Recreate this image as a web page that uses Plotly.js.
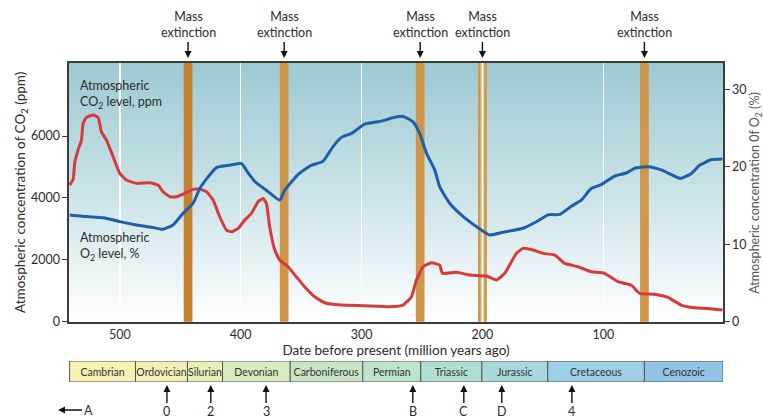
<!DOCTYPE html>
<html><head><meta charset="utf-8">
<script src="https://cdn.plot.ly/plotly-3.0.1.min.js"></script>
<style>html,body{margin:0;padding:0;background:#fff;}#chart{width:763px;height:419px;}</style>
</head><body><div id="chart"></div>
<script>
// ---- data (millions of years ago) ----
const co2Age = [541.4,538.6,537.2,534.5,531.7,530.3,527.6,522,517.9,515.2,511,505.5,500,494.5,486.2,475.2,468.3,464.2,458.6,453.1,446.2,439.3,433.8,428.3,422.8,417.3,411.8,407.6,402.1,396.6,391.1,385.6,381.5,378.7,376,371.8,367.7,360.8,354,347.1,338.8,330.5,316.7,297.4,276.6,265.6,258.7,254.6,249.1,242.2,235.3,233.1,221.5,210.5,196.7,188.4,181.5,171.9,166.4,158.1,149.8,140,132,121,110,99,88,77,70,57.7,46.6,35.6,24.6,13.6,1.5];
const co2Ppm = [4415,4600,5150,5546,5869,6408,6602,6676,6602,6137,5869,5330,4793,4577,4470,4490,4415,4200,4038,4038,4147,4276,4276,4200,3931,3392,2962,2907,3016,3285,3500,3876,3985,3823,3069,2316,1993,1777,1454,1131,808,614,539,517,485,539,808,1347,1777,1906,1830,1563,1595,1508,1475,1347,1563,2209,2370,2316,2209,2154,1885,1777,1615,1563,1292,1185,916,885,787,539,452,430,378];
const o2Age = [541.4,527.6,513.8,500,486.2,472.4,464.2,455.9,447.6,439.3,433.8,426.9,420,409,399.3,393.8,388.3,377.3,367.7,363.5,352.5,341.5,331.9,323.6,316.7,308.5,297.4,283.7,272.6,265.6,257.4,251.9,246.4,239.5,235.3,227.1,216.1,205.1,194.1,183,166.4,155.4,145.8,136,126.5,118.2,110,101.7,90.7,81,74.1,63.1,52.1,43.8,36.1,27.3,20.4,10.7,1.5];
const o2Pct = [13.78,13.57,13.43,12.92,12.49,12.15,11.93,12.49,14.0,15.3,17.2,18.7,19.9,20.2,20.4,19.2,18.1,16.8,15.7,17.0,19.0,20.2,20.7,22.6,23.8,24.3,25.5,25.9,26.4,26.5,25.8,24.3,21.8,19.6,17.4,15.3,13.6,12.3,11.2,11.55,12.07,12.9,13.8,13.85,14.9,15.7,17.2,17.7,18.8,19.2,19.8,20.0,19.6,19.0,18.5,19.1,20.2,20.9,21.0];
const extinctionAge = [443.5, 364, 251.5, 200, 66];
const periodNames = ['Cambrian','Ordovician','Silurian','Devonian','Carboniferous','Permian','Triassic','Jurassic','Cretaceous','Cenozoic'];
const periodStart = [541.5,487,444,415,359,299,251,200.5,146,66];
const periodEnd   = [487,444,415,359,299,251,200.5,146,66,1];
const markerLabels = ['0','2','3','B','C','D','4'];
const markerAge = [461, 424.7, 379, 257.6, 215.4, 184, 126];

// ---- styles ----
const FONT = 'Lato, "Open Sans", sans-serif';
const TXT = '#2b2b2b';
const periodColors = ['#f7f1b3','#f2efb6','#e9efb9','#d9ecc0','#c8e6c5','#bee3cb','#b0ded3','#a7d8dd','#9dcfe6','#8fc4e6'];
const bgSvg = '<svg xmlns="http://www.w3.org/2000/svg" width="100" height="100" viewBox="0 0 100 100" preserveAspectRatio="none"><defs><linearGradient id="g" x1="0" y1="0" x2="0" y2="1"><stop offset="0" stop-color="#9dc9d2"/><stop offset="0.5" stop-color="#cae3e8"/><stop offset="1" stop-color="#ffffff"/></linearGradient></defs><rect width="100" height="100" fill="url(#g)"/></svg>';

const mainBottom = 0.189;
const tlTop = 0.0658;

const traces = [
  {x: co2Age, y: co2Ppm, type: 'scatter', mode: 'lines', xaxis: 'x', yaxis: 'y',
   line: {color: '#d63a3c', width: 3, shape: 'spline', smoothing: 0.4}, hoverinfo: 'skip'},
  {x: o2Age, y: o2Pct, type: 'scatter', mode: 'lines', xaxis: 'x', yaxis: 'y2',
   line: {color: '#1f5ea8', width: 3, shape: 'spline', smoothing: 0.5}, hoverinfo: 'skip'},
  {type: 'bar', orientation: 'h', xaxis: 'x2', yaxis: 'y3',
   y: periodNames.map(() => 0), base: periodEnd,
   x: periodStart.map((s, i) => s - periodEnd[i]),
   width: 1, text: periodNames, textposition: 'inside', insidetextanchor: 'middle',
   textangle: 0, constraintext: 'none',
   textfont: {family: FONT, size: 10.5, color: '#333'},
   marker: {color: periodColors, line: {color: '#555', width: 1}}, hoverinfo: 'skip'}
];

const shapes = [];
function bar(x0, x1, color) {
  shapes.push({type: 'rect', xref: 'x', yref: 'paper', x0: x0, x1: x1, y0: mainBottom, y1: 1,
    fillcolor: color, line: {width: 0}, layer: 'below'});
}
extinctionAge.forEach((a, i) => {
  if (i === 3) {
    bar(a + 3.6, a - 3.6, '#ecd4a6');
    bar(a + 3.6, a + 1.5, '#cf9548');
    bar(a - 1.5, a - 3.6, '#cf9548');
  } else {
    bar(a + 3.6, a - 3.6, i === 0 ? '#c4812f' : '#cf9548');
  }
});

const annotations = [];
extinctionAge.forEach(a => {
  annotations.push({x: a, xref: 'x', y: 1.0157, yref: 'paper', text: 'Mass<br>extinction',
    showarrow: true, ax: 0, ay: -33, arrowhead: 2, arrowsize: 1, arrowwidth: 1.4, arrowcolor: '#111',
    font: {family: FONT, size: 12.5, color: TXT}});
});
markerLabels.forEach((t, i) => {
  annotations.push({x: markerAge[i], xref: 'x', y: -0.0094, yref: 'paper', text: t,
    showarrow: true, ax: 0, ay: 27, arrowhead: 2, arrowsize: 1, arrowwidth: 1.4, arrowcolor: '#111',
    font: {family: FONT, size: 12.5, color: TXT}});
});
annotations.push({x: -0.0168, xref: 'paper', y: -0.0878, yref: 'paper', text: 'A',
  showarrow: true, ax: 30, ay: 0, arrowhead: 2, arrowsize: 1, arrowwidth: 1.4, arrowcolor: '#111',
  font: {family: FONT, size: 12.5, color: TXT}});
annotations.push({x: 0.014, xref: 'paper', y: 0.90, yref: 'paper', xanchor: 'left', yanchor: 'middle', align: 'left',
  text: 'Atmospheric<br>CO<sub>2</sub> level, ppm', showarrow: false, font: {family: FONT, size: 12.5, color: TXT}});
annotations.push({x: 0.014, xref: 'paper', y: 0.426, yref: 'paper', xanchor: 'left', yanchor: 'middle', align: 'left',
  text: 'Atmospheric<br>O<sub>2</sub> level, %', showarrow: false, font: {family: FONT, size: 12.5, color: TXT}});
annotations.push({x: 1.0495, xref: 'paper', y: (mainBottom + 1) / 2, yref: 'paper', xanchor: 'center', yanchor: 'middle',
  textangle: -90, text: 'Atmospheric concentration 0f O<sub>2</sub> (%)', showarrow: false,
  font: {family: FONT, size: 12.5, color: '#555'}});

const layout = {
  width: 763, height: 419,
  margin: {l: 69, r: 40, t: 63, b: 37},
  paper_bgcolor: '#ffffff', plot_bgcolor: 'rgba(0,0,0,0)',
  showlegend: false, hovermode: false,
  font: {family: FONT, size: 12.5, color: TXT},
  images: [{source: 'data:image/svg+xml;charset=utf-8,' + encodeURIComponent(bgSvg),
    xref: 'paper', yref: 'paper', x: 0, y: 1, sizex: 1, sizey: 1 - mainBottom,
    xanchor: 'left', yanchor: 'top', sizing: 'stretch', layer: 'below'}],
  xaxis: {domain: [0, 1], anchor: 'y', range: [542, 1], tickvals: [500, 400, 300, 200, 100],
    showgrid: true, gridcolor: '#ffffff', gridwidth: 1.5, zeroline: false,
    showline: true, mirror: true, linecolor: '#3c3c3c', linewidth: 1.8, ticks: '',
    tickfont: {family: FONT, size: 12.5, color: TXT}, automargin: true,
    title: {text: 'Date before present (million years ago)', standoff: 5, font: {family: FONT, size: 13.5, color: TXT}}},
  yaxis: {domain: [mainBottom, 1], anchor: 'x', range: [0, 8360], tickvals: [0, 2000, 4000, 6000],
    showgrid: false, zeroline: false, showline: true, mirror: true, linecolor: '#3c3c3c', linewidth: 1.6,
    ticks: 'outside', ticklen: 5, tickcolor: '#3c3c3c', tickwidth: 1,
    tickfont: {family: FONT, size: 12.5, color: TXT}, automargin: true,
    title: {text: 'Atmospheric concentration of CO<sub>2</sub> (ppm)', standoff: 2, font: {family: FONT, size: 13.5, color: TXT}}},
  yaxis2: {overlaying: 'y', side: 'right', anchor: 'x', range: [0, 33.4], tickvals: [0, 10, 20, 30],
    showgrid: false, zeroline: false, showline: true, linecolor: '#3c3c3c', linewidth: 1.6,
    ticks: 'outside', ticklen: 5, tickcolor: '#3c3c3c', tickwidth: 1,
    tickfont: {family: FONT, size: 12.5, color: TXT}, automargin: false},
  xaxis2: {domain: [0, 1], anchor: 'y3', matches: 'x', range: [542, 1], showticklabels: false, showgrid: false,
    zeroline: false, showline: false, ticks: ''},
  yaxis3: {domain: [0, tlTop], anchor: 'x2', range: [-0.5, 0.5], visible: false, fixedrange: true},
  shapes: shapes,
  annotations: annotations
};

Plotly.newPlot('chart', traces, layout, {displayModeBar: false, staticPlot: true});
</script>
</body></html>
